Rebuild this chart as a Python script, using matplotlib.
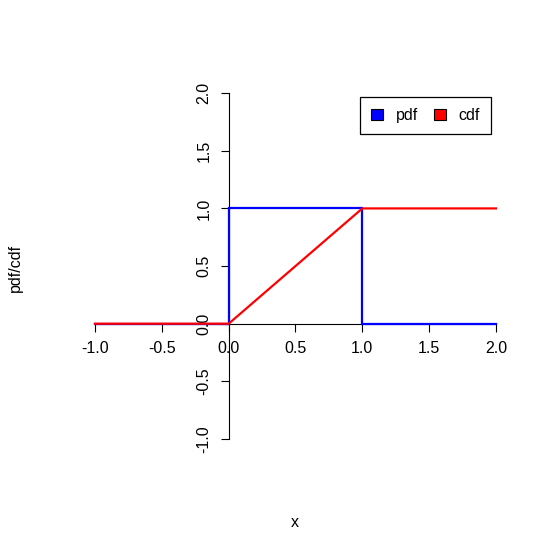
import matplotlib
matplotlib.use('Agg')
import matplotlib.pyplot as plt

plt.rcParams['font.family'] = ['Liberation Sans', 'DejaVu Sans']

# uniform(0,1) distribution on [-1, 2]
pdf_x = [-1, 0, 0, 1, 1, 2]
pdf_y = [0, 0, 1, 1, 0, 0]
cdf_x = [-1, 0, 1, 2]
cdf_y = [0, 0, 1, 1]
ticks = [-1.0, -0.5, 0.0, 0.5, 1.0, 1.5, 2.0]
tick_labels = ["-1.0", "-0.5", "0.0", "0.5", "1.0", "1.5", "2.0"]

fig = plt.figure(figsize=(5.53, 5.52), dpi=100)
ax = fig.add_axes([0.1235, 0.163, 0.8217, 0.710])
ax.set_xlim(-1.2, 2.2)
ax.set_ylim(-1.2, 2.2)

ax.plot(pdf_x, pdf_y, color="blue", lw=1.6, solid_joinstyle="miter", zorder=3)
ax.plot(cdf_x, cdf_y, color="red", lw=1.6, zorder=4)

# axes through origin, R style
for s in ["top", "right"]:
    ax.spines[s].set_visible(False)
for s in ["left", "bottom"]:
    ax.spines[s].set_position(("data", 0))
    ax.spines[s].set_bounds(-1, 2)
    ax.spines[s].set_linewidth(0.8)
    ax.spines[s].set_zorder(1)
ax.set_xticks(ticks)
ax.set_xticklabels(tick_labels)
ax.set_yticks(ticks)
ax.set_yticklabels(tick_labels, rotation=90, va="center")
ax.tick_params(direction="out", length=5.5, width=0.8, labelsize=11.5, pad=7)

fig.text(0.533, 0.054, "x", ha="center", va="center", fontsize=11.5)
fig.text(0.027, 0.514, "pdf/cdf", ha="center", va="center", rotation=90, fontsize=11.5)

h1 = plt.Rectangle((0, 0), 1, 1, facecolor="blue", edgecolor="black", lw=0.8)
h2 = plt.Rectangle((0, 0), 1, 1, facecolor="red", edgecolor="black", lw=0.8)
leg = ax.legend([h1, h2], ["pdf", "cdf"], ncol=2, loc="upper right",
                bbox_to_anchor=(491 / 553, (552 - 97) / 552), bbox_transform=fig.transFigure,
                fancybox=False, edgecolor="black", framealpha=1, fontsize=11.5,
                handlelength=0.75, handleheight=0.75, columnspacing=1.0, handletextpad=0.8,
                borderpad=0.7, borderaxespad=0)
leg.get_frame().set_linewidth(0.9)
leg.set_zorder(5)

plt.savefig("out.png")
